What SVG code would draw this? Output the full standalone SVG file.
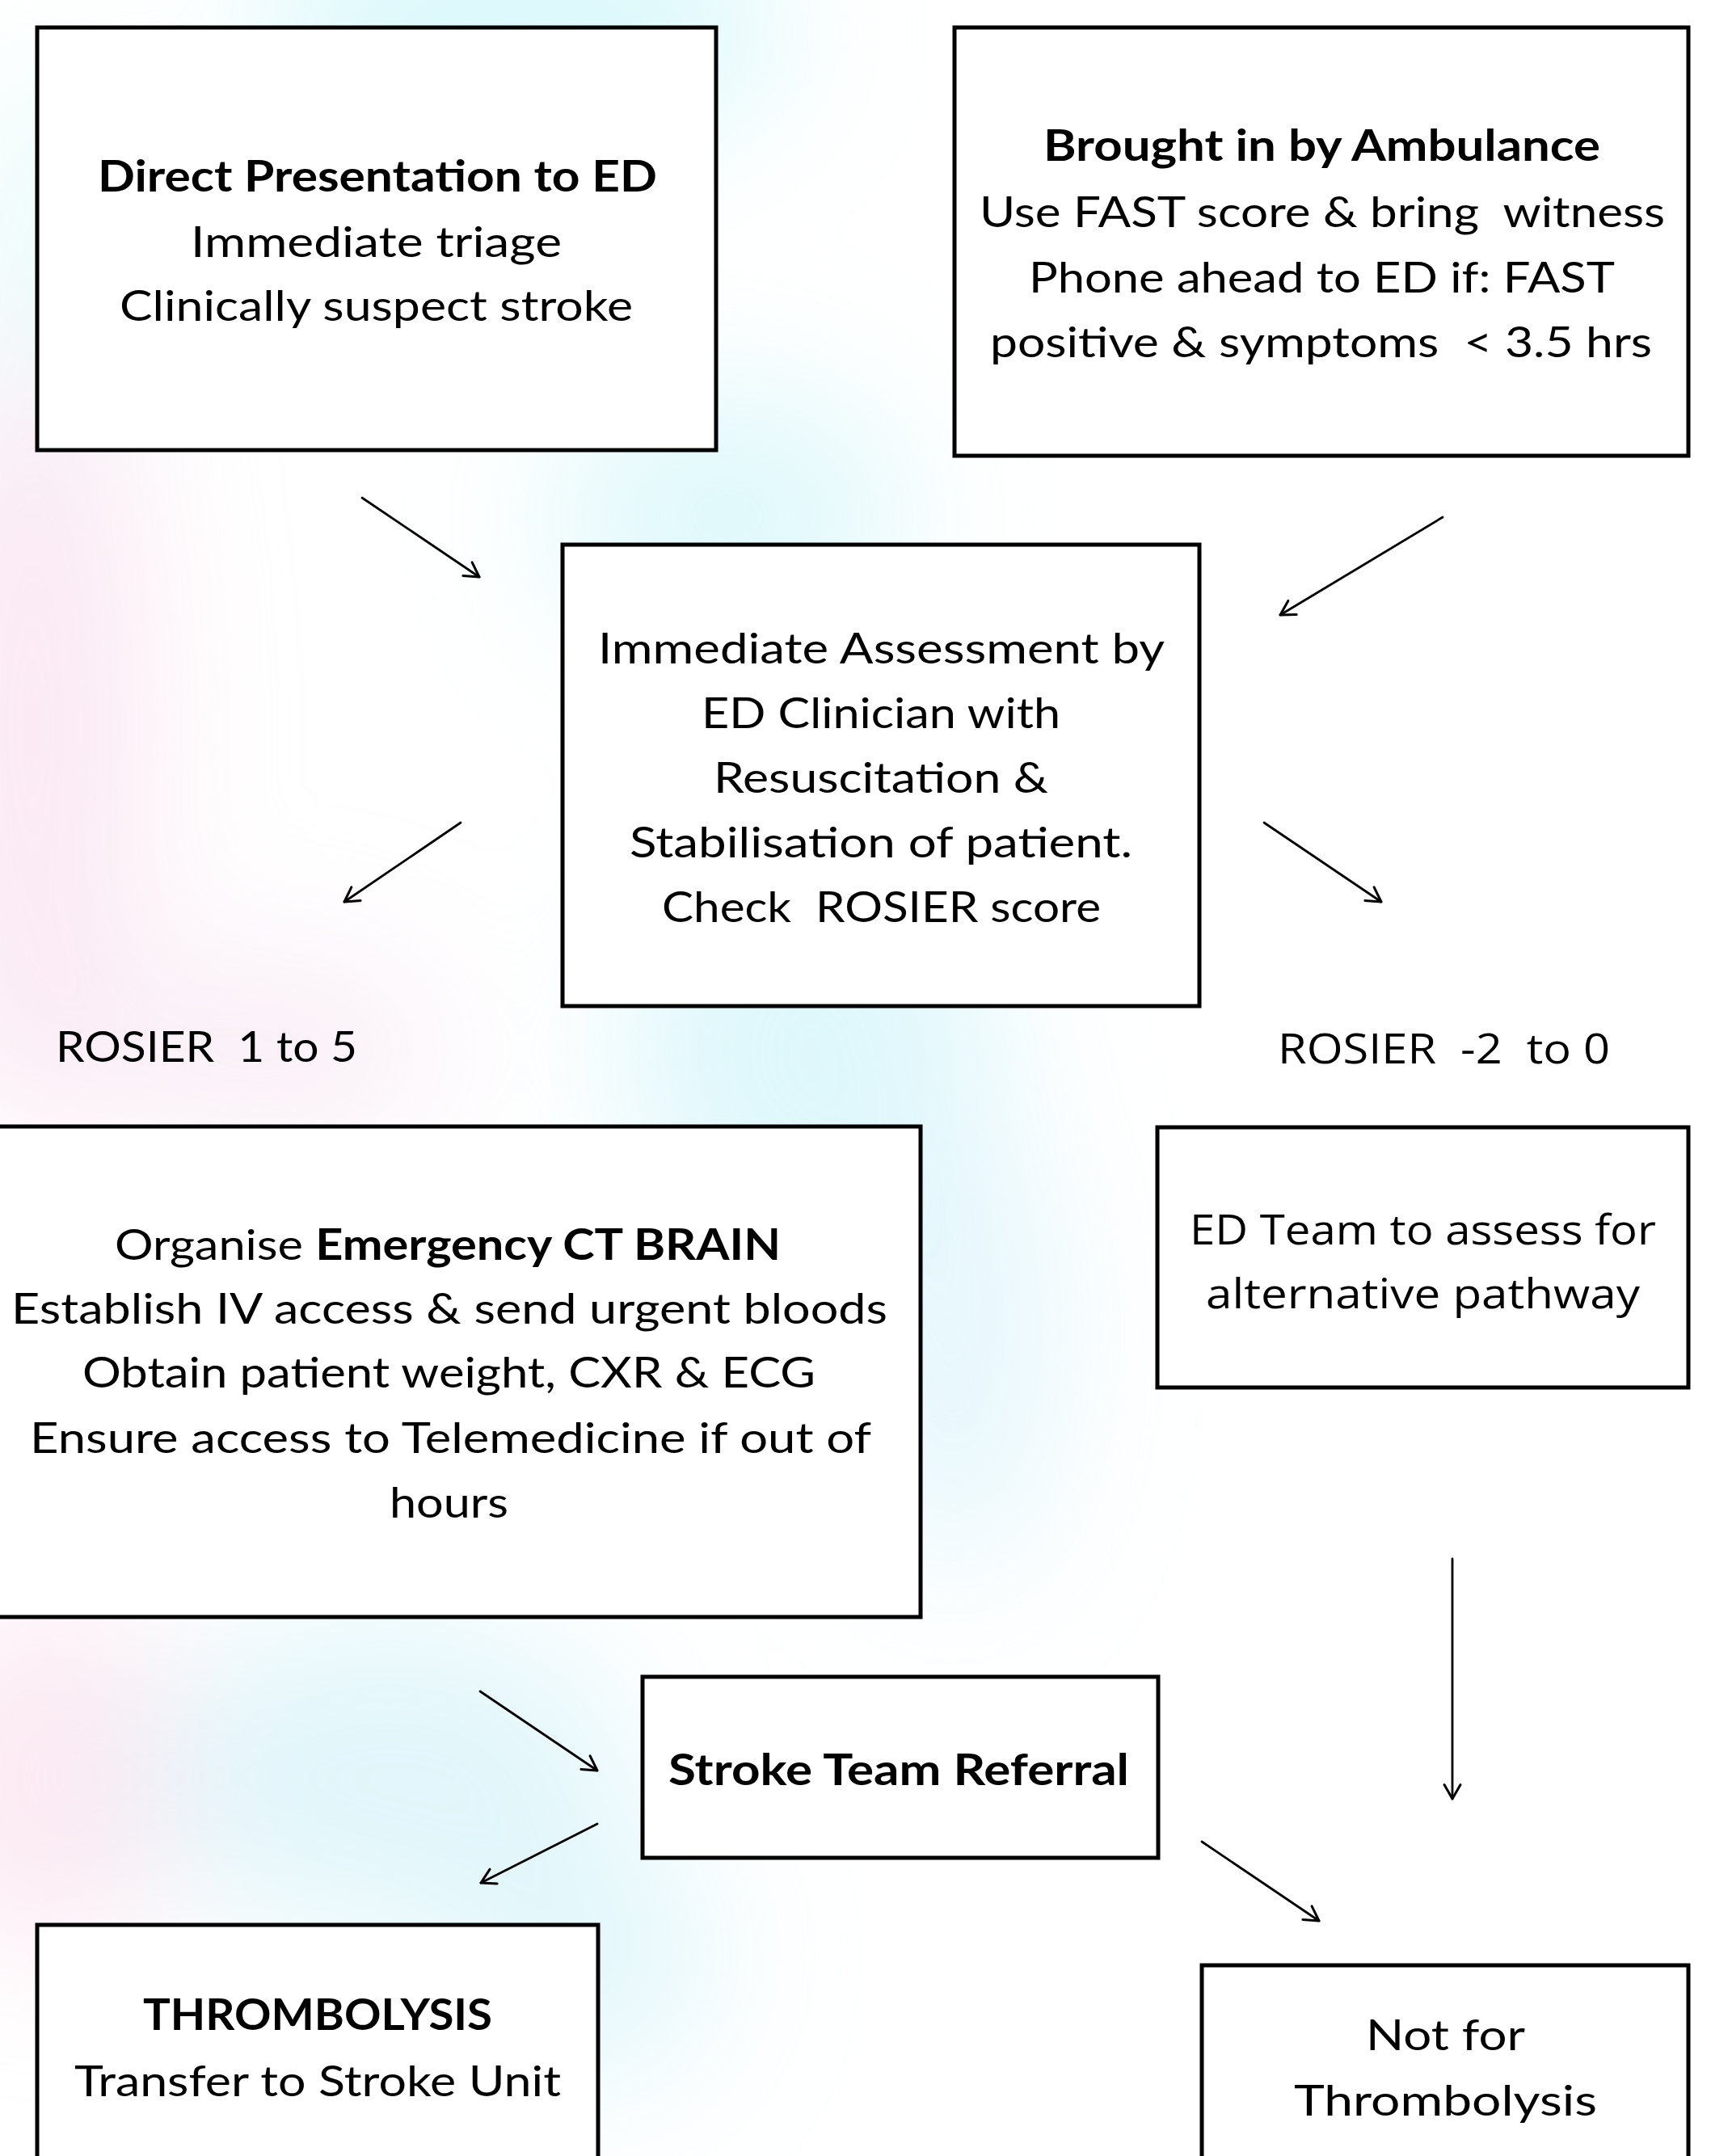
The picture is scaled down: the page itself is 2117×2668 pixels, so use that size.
<svg xmlns="http://www.w3.org/2000/svg" width="2117" height="2668" viewBox="0 0 2117 2668">
  <style>
    .box { fill: #ffffff; stroke: #000000; stroke-width: 5; }
    .t { font-family: Lato, "Open Sans", "Liberation Sans", sans-serif; font-size: 53px; fill: #000000; white-space: pre; }
    .b { font-weight: bold; }
    .s { font-family: "Open Sans", "Noto Sans", "DejaVu Sans", sans-serif; font-size: 52px; fill: #000000; white-space: pre; }
    .conn line { stroke: #000000; stroke-width: 2.8; stroke-linecap: round; }
  </style>
  <defs>
    <marker id="arr" markerUnits="userSpaceOnUse" markerWidth="30" markerHeight="30" viewBox="-25 -15 30 30" refX="0" refY="0" orient="auto">
      <path d="M-17.5,-10 L0,0 L-17.5,10" fill="none" stroke="#000000" stroke-width="3" stroke-linecap="round" stroke-linejoin="round"/>
    </marker>
    <filter id="blur" x="-50%" y="-50%" width="200%" height="200%">
      <feGaussianBlur stdDeviation="90"/>
    </filter>
  </defs>

  <g id="background">
    <rect x="0" y="0" width="2117" height="2668" fill="#ffffff"/>
    <g filter="url(#blur)" opacity="0.55">
      <ellipse cx="640" cy="40" rx="330" ry="140" fill="#b8f2f7"/>
      <ellipse cx="900" cy="640" rx="220" ry="160" fill="#c4f3f8"/>
      <ellipse cx="1000" cy="1300" rx="230" ry="260" fill="#c4f1f8"/>
      <ellipse cx="1180" cy="1650" rx="120" ry="300" fill="#cdeffa"/>
      <ellipse cx="40" cy="900" rx="140" ry="520" fill="#f7d6ea"/>
      <ellipse cx="80" cy="300" rx="90" ry="220" fill="#d2f5f5"/>
      <ellipse cx="60" cy="2200" rx="170" ry="220" fill="#f9d7e8"/>
      <ellipse cx="480" cy="2200" rx="300" ry="200" fill="#c9eff7"/>
      <ellipse cx="720" cy="2420" rx="160" ry="160" fill="#c9f0f8"/>
      <ellipse cx="330" cy="1300" rx="220" ry="120" fill="#f5e1f0"/>
    </g>
  </g>

  <g id="connectors" class="conn">
    <line x1="448" y1="616" x2="593" y2="714" marker-end="url(#arr)"/>
    <line x1="1785" y1="640" x2="1584" y2="761" marker-end="url(#arr)"/>
    <line x1="570" y1="1018" x2="426" y2="1116" marker-end="url(#arr)"/>
    <line x1="1564" y1="1018" x2="1709" y2="1116" marker-end="url(#arr)"/>
    <line x1="1797" y1="1929" x2="1797" y2="2226" marker-end="url(#arr)"/>
    <line x1="594" y1="2093" x2="739" y2="2191" marker-end="url(#arr)"/>
    <line x1="739" y1="2257" x2="595" y2="2330" marker-end="url(#arr)"/>
    <line x1="1487" y1="2279" x2="1632" y2="2377" marker-end="url(#arr)"/>
  </g>

  <g id="node-direct">
    <rect class="box" x="46" y="34" width="840" height="523"/>
    <text class="t b" x="121" y="237" textLength="692" lengthAdjust="spacingAndGlyphs">Direct Presentation to ED</text>
    <text class="t" x="236" y="318" textLength="459" lengthAdjust="spacingAndGlyphs">Immediate triage</text>
    <text class="t" x="148" y="397" textLength="635" lengthAdjust="spacingAndGlyphs">Clinically suspect stroke</text>
  </g>

  <g id="node-ambulance">
    <rect class="box" x="1181" y="34" width="908" height="530"/>
    <text class="t b" x="1291" y="199" textLength="689" lengthAdjust="spacingAndGlyphs">Brought in by Ambulance</text>
    <text class="t" x="1212" y="281" textLength="848" lengthAdjust="spacingAndGlyphs">Use FAST score &amp; bring  witness</text>
    <text class="t" x="1273" y="362" textLength="725" lengthAdjust="spacingAndGlyphs">Phone ahead to ED if: FAST</text>
    <text class="t" x="1225" y="442" textLength="819" lengthAdjust="spacingAndGlyphs">positive &amp; symptoms  &lt; 3.5 hrs</text>
  </g>

  <g id="node-assessment">
    <rect class="box" x="696" y="674" width="788" height="571"/>
    <text class="t" x="740" y="821" textLength="701" lengthAdjust="spacingAndGlyphs">Immediate Assessment by</text>
    <text class="t" x="868" y="901" textLength="444" lengthAdjust="spacingAndGlyphs">ED Clinician with</text>
    <text class="t" x="883" y="981" textLength="414" lengthAdjust="spacingAndGlyphs">Resuscitation &amp;</text>
    <text class="t" x="779" y="1061" textLength="622" lengthAdjust="spacingAndGlyphs">Stabilisation of patient.</text>
    <text class="t" x="819" y="1141" textLength="543" lengthAdjust="spacingAndGlyphs">Check  ROSIER score</text>
  </g>

  <g id="label-rosier-pos">
    <text class="t" x="69" y="1314" textLength="373" lengthAdjust="spacingAndGlyphs">ROSIER  1 to 5</text>
  </g>
  <g id="label-rosier-neg">
    <text class="s" x="1581" y="1316" textLength="411" lengthAdjust="spacingAndGlyphs">ROSIER  -2  to 0</text>
  </g>

  <g id="node-ct">
    <rect class="box" x="-27" y="1394" width="1166" height="607"/>
    <text class="t" x="142" y="1559" textLength="824" lengthAdjust="spacingAndGlyphs">Organise <tspan class="b">Emergency CT BRAIN</tspan></text>
    <text class="t" x="14" y="1638" textLength="1084" lengthAdjust="spacingAndGlyphs">Establish IV access &amp; send urgent bloods</text>
    <text class="t" x="102" y="1717" textLength="907" lengthAdjust="spacingAndGlyphs">Obtain patient weight, CXR &amp; ECG</text>
    <text class="t" x="37" y="1798" textLength="1041" lengthAdjust="spacingAndGlyphs">Ensure access to Telemedicine if out of</text>
    <text class="t" x="482" y="1878" textLength="147" lengthAdjust="spacingAndGlyphs">hours</text>
  </g>

  <g id="node-ed-team">
    <rect class="box" x="1432" y="1395" width="657" height="322"/>
    <text class="s" x="1472" y="1540" textLength="577" lengthAdjust="spacingAndGlyphs">ED Team to assess for</text>
    <text class="s" x="1492" y="1619" textLength="537" lengthAdjust="spacingAndGlyphs">alternative pathway</text>
  </g>

  <g id="node-stroke-team">
    <rect class="box" x="795" y="2075" width="638" height="224"/>
    <text class="t b" x="827" y="2209" textLength="570" lengthAdjust="spacingAndGlyphs">Stroke Team Referral</text>
  </g>

  <g id="node-thrombolysis">
    <rect class="box" x="46" y="2382" width="694" height="330"/>
    <text class="t b" x="177" y="2512" textLength="432" lengthAdjust="spacingAndGlyphs">THROMBOLYSIS</text>
    <text class="t" x="92" y="2594" textLength="602" lengthAdjust="spacingAndGlyphs">Transfer to Stroke Unit</text>
  </g>

  <g id="node-not-thrombolysis">
    <rect class="box" x="1487" y="2432" width="602" height="280"/>
    <text class="t" x="1690" y="2537" textLength="197" lengthAdjust="spacingAndGlyphs">Not for</text>
    <text class="t" x="1601" y="2618" textLength="375" lengthAdjust="spacingAndGlyphs">Thrombolysis</text>
  </g>
</svg>
